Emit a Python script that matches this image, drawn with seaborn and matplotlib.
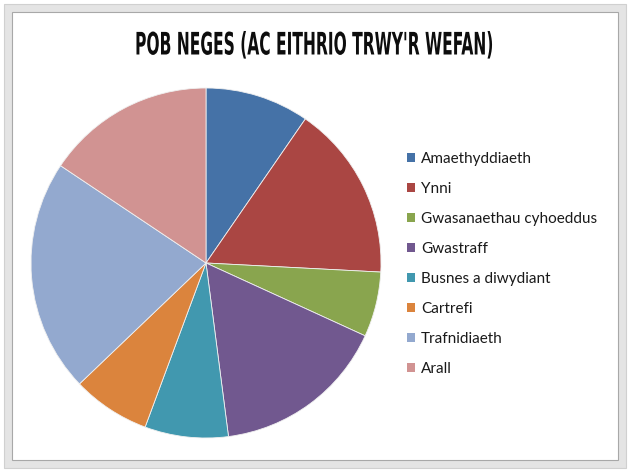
import matplotlib
matplotlib.use("Agg")
import matplotlib.pyplot as plt
from matplotlib import font_manager
from matplotlib.font_manager import FontProperties
from matplotlib.patches import Rectangle, Patch
from matplotlib.patheffects import AbstractPathEffect
from matplotlib.transforms import Affine2D
import seaborn as sns

categories = ["Amaethyddiaeth", "Ynni", "Gwasanaethau cyhoeddus", "Gwastraff",
              "Busnes a diwydiant", "Cartrefi", "Trafnidiaeth", "Arall"]
values = [9.6, 16.2, 6.0, 16.1, 7.7, 7.2, 21.5, 15.6]
colours = ["#4572A7", "#AA4643", "#89A54E", "#71588F",
           "#4198AF", "#DB843D", "#93A9CF", "#D19392"]
title = "POB NEGES (AC EITHRIO TRWY'R WEFAN)"

sns.set_theme(style="white")
plt.rcParams["font.family"] = ["Lato", "DejaVu Sans"]

# look for a condensed bold face for the title
cond = []
for f in font_manager.fontManager.ttflist:
    n = (f.name + " " + f.fname).lower()
    is_cond = ("condensed" in str(f.stretch) or "narrow" in n or "condensed" in n)
    if is_cond:
        wt = f.weight if isinstance(f.weight, int) else 400
        cond.append((abs(wt - 700), "extra" in str(f.stretch), f.fname))
cond.sort()
if cond:
    title_fp = FontProperties(fname=cond[0][2], size=12.4)
else:
    title_fp = FontProperties(family="Roboto", weight="bold", size=12.4)


class VStretch(AbstractPathEffect):
    """Stretch glyphs vertically about a fixed display y (text stays text)."""
    def __init__(self, sy, yc):
        super().__init__()
        self.sy, self.yc = sy, yc

    def draw_path(self, renderer, gc, tpath, affine, rgbFace=None):
        st = Affine2D().translate(0, -self.yc).scale(1, self.sy).translate(0, self.yc)
        renderer.draw_path(gc, tpath, affine + st, rgbFace)


W, H = 630, 472
fig = plt.figure(figsize=(W / 100, H / 100), dpi=100)
fig.patch.set_facecolor("white")

# outer frame
fig.patches.append(Rectangle((4 / W, 4 / H), 622 / W, 464 / H, transform=fig.transFigure,
                             facecolor="#e4e4e4", edgecolor="#d0d0d0", lw=0.8, zorder=-5))
fig.patches.append(Rectangle((12 / W, 12 / H), 606 / W, 448 / H, transform=fig.transFigure,
                             facecolor="white", edgecolor="#a8a8a8", lw=0.8, zorder=-4))

cx, cy, r = 206, 263, 175
ax = fig.add_axes([(cx - r) / W, (H - cy - r) / H, 2 * r / W, 2 * r / H])
ax.set_zorder(2)
ax.patch.set_alpha(0)
pal = sns.color_palette(colours)
ax.pie(values, colors=pal, startangle=90, counterclock=False, radius=1,
       wedgeprops=dict(edgecolor="#f0f0f0", linewidth=0.6))
ax.set_xlim(-1, 1)
ax.set_ylim(-1, 1)
ax.set_aspect("equal")
ax.axis("off")

handles = [Patch(facecolor=c, edgecolor="none") for c in pal]
leg = fig.legend(handles, categories, loc="upper left",
                 bbox_to_anchor=(407 / W, 1 - 152 / H), frameon=False,
                 borderpad=0, borderaxespad=0, fontsize=11,
                 handlelength=0.55, handleheight=0.55, handletextpad=0.35,
                 labelspacing=1.05, labelcolor="#1a1a1a")
leg.set_zorder(3)

title_y = 45.5
fig.text(314 / W, 1 - title_y / H, title, ha="center", va="center",
         fontproperties=title_fp, color="#0d0d0d", zorder=3,
         path_effects=[VStretch(1.8, H - title_y)])

fig.savefig("out.png", dpi=100)
